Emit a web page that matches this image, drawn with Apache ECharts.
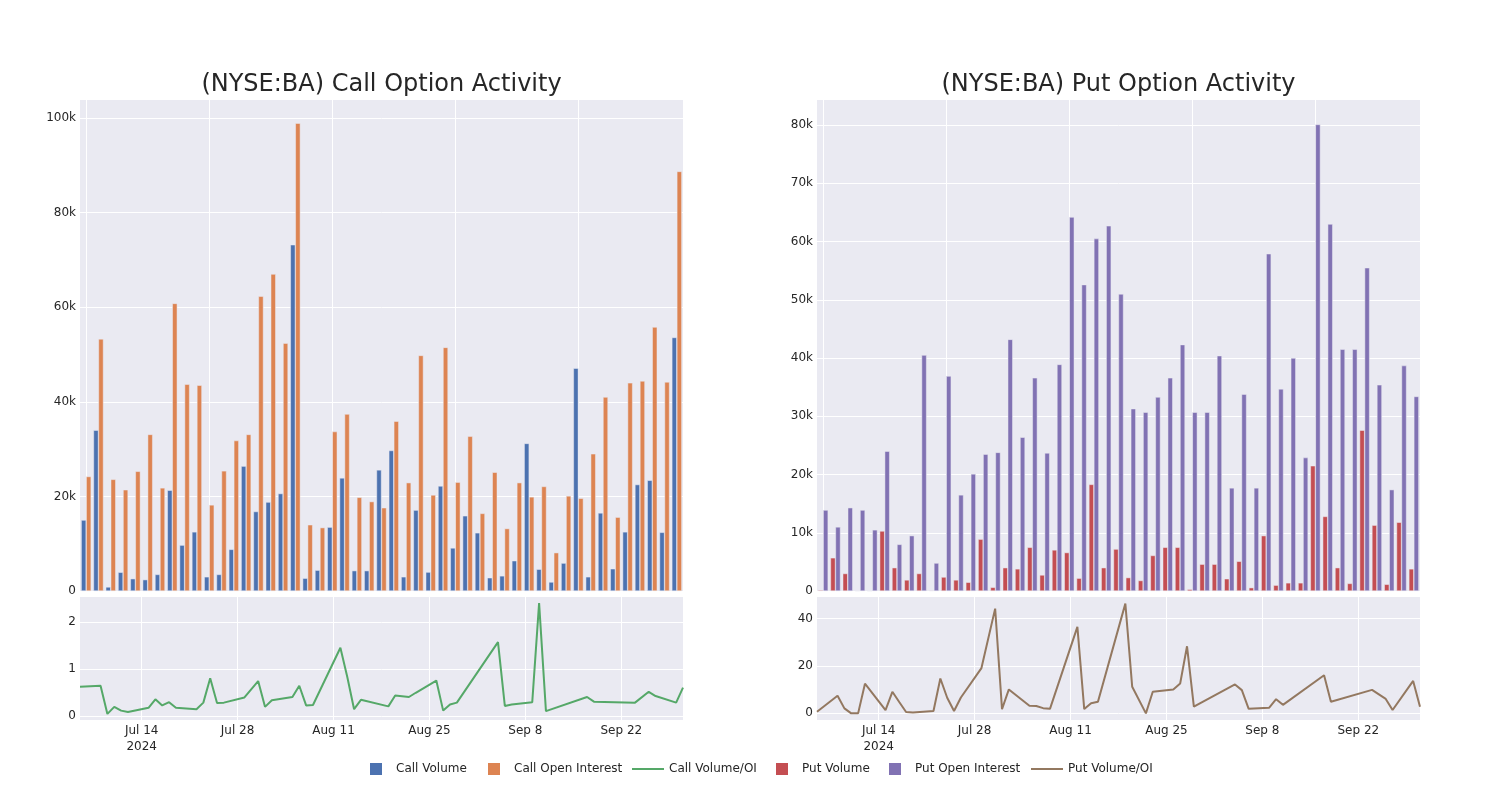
<!DOCTYPE html>
<html>
<head>
<meta charset="utf-8">
<script src="https://cdn.jsdelivr.net/npm/echarts@6/dist/echarts.min.js"></script>
<style>
html,body{margin:0;padding:0;background:#fff;}
#chart{width:1500px;height:800px;}
</style>
</head>
<body>
<div id="chart"></div>
<script>
// ---- data ----
const dates = ['2024-07-05','2024-07-08','2024-07-09','2024-07-10','2024-07-11','2024-07-12',
  '2024-07-15','2024-07-16','2024-07-17','2024-07-18','2024-07-19','2024-07-22','2024-07-23',
  '2024-07-24','2024-07-25','2024-07-26','2024-07-29','2024-07-31','2024-08-01','2024-08-02',
  '2024-08-05','2024-08-06','2024-08-07','2024-08-08','2024-08-12','2024-08-13','2024-08-14',
  '2024-08-15','2024-08-19','2024-08-20','2024-08-22','2024-08-23','2024-08-26','2024-08-27',
  '2024-08-28','2024-08-29','2024-09-04','2024-09-05','2024-09-06','2024-09-09','2024-09-10',
  '2024-09-11','2024-09-17','2024-09-18','2024-09-24','2024-09-26','2024-09-27','2024-09-30',
  '2024-10-01'];

const callVolume = [15000,34000,850,3960,2600,2400,3500,21300,9700,12500,3000,3500,8800,26400,16800,
  18800,20600,73200,2700,4400,13500,23900,4300,4300,25600,29700,3000,17100,4000,22200,9100,15900,
  12300,2800,3200,6400,31200,4600,1900,5900,47100,3000,16500,4700,12500,22500,23400,12400,53600];
const callOpenInterest = [24200,53300,23600,21400,25300,33100,21800,60800,43700,43500,18200,25400,
  31800,33100,62300,67000,52400,98900,14000,13400,33700,37400,19800,18900,17600,35900,22900,49800,
  20300,51500,23000,32700,16400,25100,13200,22900,19900,22100,8100,20100,19600,29000,41000,15600,
  44000,44400,55800,44200,88700];
const callVolOI = [0.62,0.64,0.04,0.19,0.11,0.08,0.17,0.35,0.22,0.29,0.17,0.14,0.28,0.80,0.27,0.28,
  0.39,0.74,0.19,0.33,0.40,0.64,0.22,0.23,1.45,0.83,0.14,0.34,0.20,0.43,0.40,0.49,0.75,0.11,0.24,
  0.28,1.57,0.21,0.24,0.29,2.40,0.10,0.40,0.30,0.28,0.51,0.42,0.28,0.60];

const putVolume = [170,5700,3000,50,20,10300,4000,1900,3000,100,2400,1900,1500,8900,630,4000,3800,
  7500,2750,7050,6600,2200,18300,4000,7200,2300,1800,6100,7500,7500,300,4600,4600,2100,5100,570,
  9500,1000,1400,1400,21500,12800,4000,1300,27600,11300,1150,11800,3800];
const putOpenInterest = [13900,11000,14300,13900,10500,24000,8000,9500,40500,4800,36900,16500,20100,
  23500,23800,43200,26400,36600,23700,38900,64200,52600,60500,62700,51000,31300,30700,33300,36600,
  42300,30700,30700,40400,17700,33800,17700,57900,34700,40000,22900,80100,63000,41500,41500,55500,
  35400,17400,38700,33400];
const putVolOI = [0.7,7.4,2.1,0.0,0.0,12.5,1.4,9.1,4.8,0.55,0.4,1.0,14.7,6.6,1.0,6.7,19.1,44.2,1.8,
  10.1,3.2,3.1,2.2,1.9,36.5,1.8,4.3,4.9,46.3,11.2,0.0,9.1,10.1,12.6,28.3,2.8,12.2,9.8,1.9,2.4,6.0,
  3.6,16.1,4.9,9.9,6.1,1.4,13.7,2.8];

const timeTicks = ['2024-07-14','2024-07-28','2024-08-11','2024-08-25','2024-09-08','2024-09-22'];
const callBarTicks = [0,20000,40000,60000,80000,100000];
const putBarTicks = [0,10000,20000,30000,40000,50000,60000,70000,80000];
const callRatioTicks = [0,1,2];
const putRatioTicks = [0,20,40];

// ---- helpers ----
const ts = s => { const p = s.split('-').map(Number); return Date.UTC(p[0], p[1]-1, p[2]); };
const MONTHS = ['Jan','Feb','Mar','Apr','May','Jun','Jul','Aug','Sep','Oct','Nov','Dec'];
const timeTickVals = timeTicks.map(ts);
const fmtDate = v => {
  const d = new Date(v);
  let s = MONTHS[d.getUTCMonth()] + ' ' + d.getUTCDate();
  if (v === timeTickVals[0]) s += '\n' + d.getUTCFullYear();
  return s;
};
const kFmt = v => v === 0 ? '0' : (v/1000) + 'k';

const TXT = '#262626';
const BG = '#EAEAF2';
const FONT = 'DejaVu Sans';
const C = {cv:'#4C72B0', coi:'#DD8452', cr:'#55A868', pv:'#C44E52', poi:'#8172B3', pr:'#937860'};

const grids = [
  {left:80, top:100, width:603, height:491},
  {left:80, top:597, width:603, height:123},
  {left:817, top:100, width:603, height:491},
  {left:817, top:597, width:603, height:123}
].map(g => Object.assign(g, {show:true, backgroundColor:BG, borderWidth:0, containLabel:false}));

const catX = gi => ({
  type:'category', gridIndex:gi, data:dates, boundaryGap:true,
  axisLine:{show:false}, axisTick:{show:false}, axisLabel:{show:false},
  splitLine:{show:true, interval:9, alignWithLabel:true, lineStyle:{color:'#fff', width:1}}
});
const timeX = gi => ({
  type:'value', gridIndex:gi, min:ts(dates[0]), max:ts(dates[dates.length-1]),
  axisLine:{show:false},
  axisTick:{show:false, customValues:timeTickVals},
  axisLabel:{customValues:timeTickVals, formatter:fmtDate, color:TXT, fontSize:12, fontFamily:FONT, margin:3, lineHeight:16, hideOverlap:false},
  splitLine:{show:true, lineStyle:{color:'#fff', width:1}}
});
const valY = (gi, min, max, ticks, fmt) => ({
  type:'value', gridIndex:gi, min:min, max:max,
  axisLine:{show:false},
  axisTick:{show:false, customValues:ticks},
  axisLabel:{customValues:ticks, formatter:fmt, color:TXT, fontSize:12, fontFamily:FONT, margin:4},
  splitLine:{show:true, lineStyle:{color:'#fff', width:1}}
});

const barSeries = (name, data, color, xi, yi) => ({
  name, type:'bar', xAxisIndex:xi, yAxisIndex:yi, data,
  barWidth:5, barGap:'0%',
  itemStyle:{color, borderColor:BG, borderWidth:0.5},
  emphasis:{disabled:true}
});
const lineSeries = (name, vals, color, xi, yi) => ({
  name, type:'line', xAxisIndex:xi, yAxisIndex:yi,
  data: dates.map((d,i) => [ts(d), vals[i]]),
  symbol:'none', lineStyle:{color, width:2}, itemStyle:{color},
  emphasis:{disabled:true}
});

const legendItem = (name, left, isLine) => ({
  data:[{name, icon:'rect'}],
  left, top:763, orient:'horizontal', padding:0,
  itemWidth: isLine ? 32 : 12, itemHeight: isLine ? 2 : 12,
  itemStyle:{borderWidth:0},
  selectedMode:false,
  textStyle:{color:TXT, fontSize:12, fontFamily:FONT, padding:[0,0,0, isLine ? 0 : 9]}
});

const chart = echarts.init(document.getElementById('chart'), null, {renderer:'canvas'});
chart.setOption({
  animation:false,
  backgroundColor:'#fff',
  textStyle:{fontFamily:FONT},
  title:[
    {text:'(NYSE:BA) Call Option Activity', left:381.5, top:73, textAlign:'center', padding:0,
     textStyle:{color:TXT, fontSize:24, fontWeight:'normal', fontFamily:FONT}},
    {text:'(NYSE:BA) Put Option Activity', left:1118.5, top:73, textAlign:'center', padding:0,
     textStyle:{color:TXT, fontSize:24, fontWeight:'normal', fontFamily:FONT}}
  ],
  legend:[
    legendItem('Call Volume', 370, false),
    legendItem('Call Open Interest', 488, false),
    legendItem('Call Volume/OI', 632, true),
    legendItem('Put Volume', 776, false),
    legendItem('Put Open Interest', 889, false),
    legendItem('Put Volume/OI', 1031, true)
  ],
  grid: grids,
  xAxis:[catX(0), timeX(1), catX(2), timeX(3)],
  yAxis:[
    valY(0, 0, 103800, callBarTicks, kFmt),
    valY(1, -0.09, 2.53, callRatioTicks, v => String(v)),
    valY(2, 0, 84300, putBarTicks, kFmt),
    valY(3, -2.8, 49.1, putRatioTicks, v => String(v))
  ],
  series:[
    barSeries('Call Volume', callVolume, C.cv, 0, 0),
    barSeries('Call Open Interest', callOpenInterest, C.coi, 0, 0),
    lineSeries('Call Volume/OI', callVolOI, C.cr, 1, 1),
    barSeries('Put Volume', putVolume, C.pv, 2, 2),
    barSeries('Put Open Interest', putOpenInterest, C.poi, 2, 2),
    lineSeries('Put Volume/OI', putVolOI, C.pr, 3, 3)
  ]
});
</script>
</body>
</html>
